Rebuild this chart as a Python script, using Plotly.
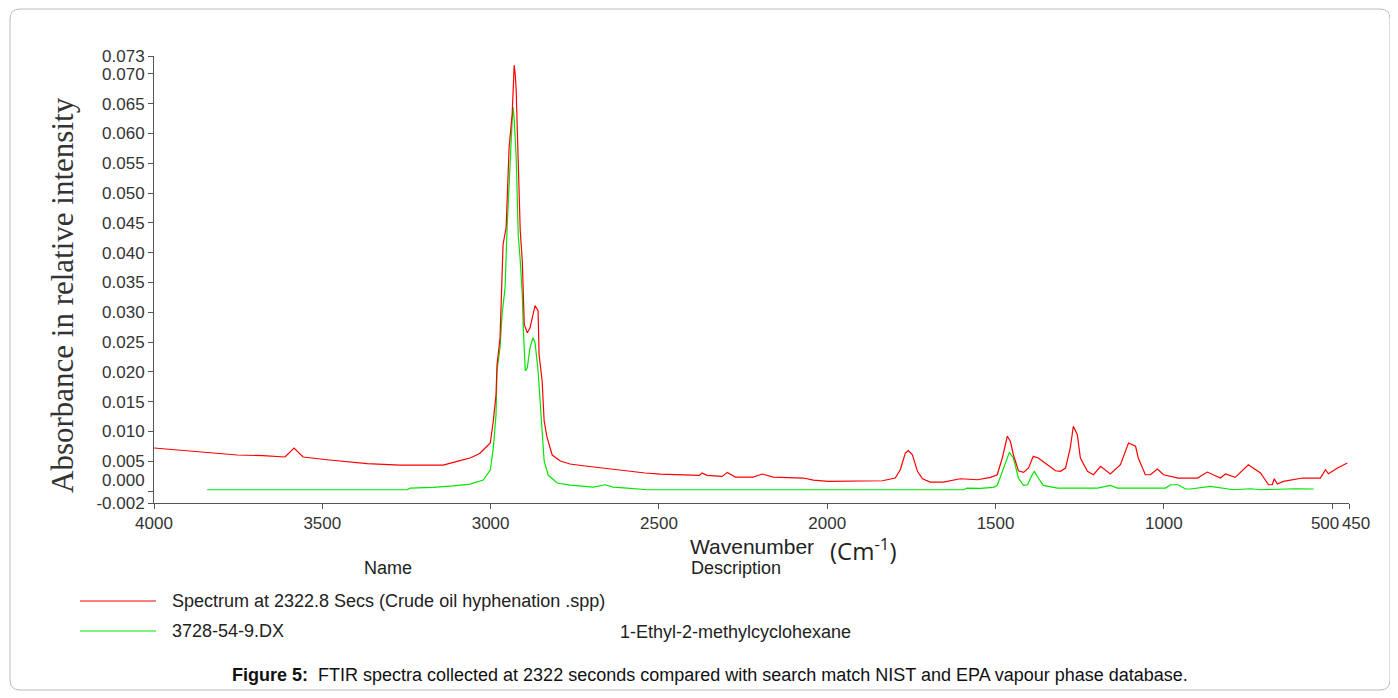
import plotly.graph_objects as go

# ---- data ----
red_wavenumber = [4000, 3944, 3854, 3753, 3676, 3611, 3584, 3557, 3486, 3367, 3269, 3141, 3091, 3061,
                  3040, 3031, 3001, 2992, 2984, 2981, 2972, 2968, 2966, 2963, 2954, 2951, 2945, 2936,
                  2933, 2930, 2927, 2924, 2921, 2918, 2915, 2912, 2906, 2903, 2900, 2891, 2883, 2874,
                  2868, 2859, 2856, 2847, 2841, 2832, 2817, 2793, 2764, 2725, 2669, 2603, 2541, 2496,
                  2422, 2380, 2372, 2357, 2312, 2297, 2273, 2220, 2193, 2160, 2071, 2041, 1997, 1836,
                  1798, 1783, 1768, 1759, 1747, 1732, 1717, 1694, 1655, 1605, 1554, 1515, 1495, 1480,
                  1465, 1456, 1447, 1432, 1417, 1402, 1388, 1373, 1346, 1322, 1307, 1292, 1278, 1269,
                  1257, 1248, 1227, 1209, 1188, 1159, 1129, 1105, 1084, 1076, 1055, 1040, 1019, 1001,
                  957, 900, 871, 832, 817, 788, 749, 713, 689, 678, 672, 663, 645, 615, 588, 535, 520,
                  511, 484, 455]
red_absorbance = [0.00723, 0.00694, 0.00656, 0.00605, 0.00594, 0.00572, 0.00723, 0.00572, 0.00526,
                  0.00459, 0.00437, 0.00437, 0.00510, 0.00555, 0.00610, 0.00639, 0.00807, 0.01177,
                  0.01614, 0.02119, 0.02573, 0.03414, 0.03800, 0.04137, 0.04422, 0.04977, 0.05768,
                  0.06323, 0.06894, 0.07146, 0.06995, 0.06726, 0.06104, 0.05599, 0.04876, 0.04372,
                  0.03867, 0.03296, 0.02791, 0.02657, 0.02741, 0.02960, 0.03111, 0.03027, 0.02287,
                  0.01850, 0.01177, 0.00891, 0.00605, 0.00505, 0.00454, 0.00425, 0.00387, 0.00341,
                  0.00303, 0.00286, 0.00264, 0.00264, 0.00303, 0.00264, 0.00247, 0.00314, 0.00235,
                  0.00235, 0.00286, 0.00235, 0.00219, 0.00185, 0.00163, 0.00173, 0.00219, 0.00358,
                  0.00639, 0.00678, 0.00610, 0.00331, 0.00207, 0.00151, 0.00151, 0.00207, 0.00190,
                  0.00230, 0.00274, 0.00555, 0.00920, 0.00836, 0.00610, 0.00341, 0.00314, 0.00387,
                  0.00583, 0.00555, 0.00442, 0.00341, 0.00331, 0.00387, 0.00723, 0.01088, 0.00947,
                  0.00555, 0.00331, 0.00274, 0.00415, 0.00286, 0.00442, 0.00807, 0.00752, 0.00555,
                  0.00274, 0.00274, 0.00370, 0.00274, 0.00219, 0.00219, 0.00319, 0.00219, 0.00286,
                  0.00230, 0.00442, 0.00303, 0.00106, 0.00106, 0.00207, 0.00118, 0.00163, 0.00190,
                  0.00219, 0.00219, 0.00358, 0.00291, 0.00387, 0.00471]

green_wavenumber = [3842, 3248, 3239, 3171, 3111, 3061, 3022, 3001, 2992, 2984, 2981, 2972, 2966,
                    2957, 2951, 2942, 2936, 2933, 2930, 2924, 2921, 2918, 2912, 2906, 2903, 2897,
                    2891, 2883, 2874, 2868, 2859, 2853, 2847, 2841, 2829, 2802, 2764, 2713, 2695,
                    2660, 2636, 2594, 2535, 1596, 1584, 1545, 1506, 1495, 1480, 1465, 1459, 1447,
                    1432, 1417, 1405, 1391, 1385, 1373, 1358, 1328, 1316, 1197, 1159, 1138, 995,
                    980, 957, 936, 921, 862, 832, 793, 743, 713, 609, 555]
green_absorbance = [0.00022, 0.00022, 0.00050, 0.00062, 0.00089, 0.00118, 0.00185, 0.00353, 0.00723,
                    0.01278, 0.02018, 0.02405, 0.02960, 0.03414, 0.04422, 0.05600, 0.06220, 0.06440,
                    0.06240, 0.05600, 0.05045, 0.04305, 0.03867, 0.03296, 0.02741, 0.02018, 0.02068,
                    0.02405, 0.02573, 0.02489, 0.02018, 0.01446, 0.01009, 0.00505, 0.00269, 0.00135,
                    0.00101, 0.00079, 0.00067, 0.00106, 0.00067, 0.00050, 0.00022, 0.00022, 0.00050,
                    0.00045, 0.00062, 0.00096, 0.00331, 0.00555, 0.00650, 0.00555, 0.00220, 0.00096,
                    0.00106, 0.00274, 0.00331, 0.00220, 0.00096, 0.00062, 0.00050, 0.00050, 0.00096,
                    0.00050, 0.00050, 0.00106, 0.00106, 0.00035, 0.00035, 0.00079, 0.00050, 0.00022,
                    0.00039, 0.00022, 0.00039, 0.00035]

x_tick_values = [4000, 3500, 3000, 2500, 2000, 1500, 1000, 500, 450]
x_tick_labels = ["4000", "3500", "3000", "2500", "2000", "1500", "1000", "500", "450"]
y_tick_values = [-0.002, 0.000, 0.005, 0.010, 0.015, 0.020, 0.025, 0.030, 0.035, 0.040, 0.045,
                 0.050, 0.055, 0.060, 0.065, 0.070, 0.073]
y_tick_labels = ["-0.002", "0.000", "0.005", "0.010", "0.015", "0.020", "0.025", "0.030", "0.035",
                 "0.040", "0.045", "0.050", "0.055", "0.060", "0.065", "0.070", "0.073"]

red_name = "Spectrum at 2322.8 Secs (Crude oil hyphenation .spp)"
green_name = "3728-54-9.DX"
green_description = "1-Ethyl-2-methylcyclohexane"

RED = "#ff0000"
GREEN = "#00e600"
OFF = 8  # page body margin
W, H = 1390, 690
L, R, T, B = 154 - OFF, 49, 56 - OFF, 195
pw, ph = W - L - R, H - T - B
NB = "\u00a0"


def px(xp):
    return (xp - OFF - L) / pw


def py(yp):
    return (H - B - (yp - OFF)) / ph


# keep the crowded end labels apart, as in the reference
x_text = list(x_tick_labels)
x_text[x_tick_values.index(500)] = x_tick_labels[x_tick_values.index(500)] + NB * 3
x_text[x_tick_values.index(450)] = NB * 3 + x_tick_labels[x_tick_values.index(450)]
y_text = list(y_tick_labels)
y_text[y_tick_values.index(0.000)] = y_tick_labels[y_tick_values.index(0.000)] + "<br>" + NB

fig = go.Figure()
fig.add_trace(go.Scatter(x=green_wavenumber, y=green_absorbance, mode="lines",
                         line=dict(color=GREEN, width=1.2), name=green_name, showlegend=False))
fig.add_trace(go.Scatter(x=red_wavenumber, y=red_absorbance, mode="lines",
                         line=dict(color=RED, width=1.2), name=red_name, showlegend=False))

tick_font = dict(family="Liberation Sans, Arial, sans-serif", size=17, color="#333333")
fig.update_xaxes(range=[4000, 450], tickvals=x_tick_values, ticktext=x_text, tickangle=0,
                 showgrid=False, zeroline=False, showline=True, linecolor="#555555", linewidth=1,
                 ticks="outside", ticklen=5, tickcolor="#555555", tickfont=tick_font)
fig.update_yaxes(range=[-0.002, 0.073], tickvals=y_tick_values, ticktext=y_text,
                 showgrid=False, zeroline=False, showline=True, linecolor="#555555", linewidth=1,
                 ticks="outside", ticklen=5, tickcolor="#555555", tickfont=tick_font)

ann = []
ann.append(dict(text="Absorbance in relative intensity", x=px(62), y=py(295), xref="paper", yref="paper",
                textangle=-90, showarrow=False, xanchor="center", yanchor="middle",
                font=dict(family="Liberation Serif, Times New Roman, serif", size=31, color="#333333")))
ann.append(dict(text="Wavenumber", x=px(816), y=py(546), xref="paper", yref="paper", showarrow=False,
                xanchor="right", yanchor="middle",
                font=dict(family="Liberation Sans, Arial, sans-serif", size=21, color="#222222")))
ann.append(dict(text="(Cm<sup>-1</sup>)", x=px(828), y=py(549), xref="paper", yref="paper", showarrow=False,
                xanchor="left", yanchor="middle",
                font=dict(family="Open Sans, sans-serif", size=24, color="#222222")))
legend_font = dict(family="Liberation Sans, Arial, sans-serif", size=18, color="#222222")
ann.append(dict(text="Name", x=px(362), y=py(568), xref="paper", yref="paper", showarrow=False,
                xanchor="left", yanchor="middle", font=legend_font))
ann.append(dict(text="Description", x=px(689), y=py(568), xref="paper", yref="paper", showarrow=False,
                xanchor="left", yanchor="middle", font=legend_font))
ann.append(dict(text=red_name, x=px(170), y=py(601), xref="paper", yref="paper", showarrow=False,
                xanchor="left", yanchor="middle", font=legend_font))
ann.append(dict(text=green_name, x=px(170), y=py(631), xref="paper", yref="paper", showarrow=False,
                xanchor="left", yanchor="middle", font=legend_font))
ann.append(dict(text=green_description, x=px(618), y=py(632), xref="paper", yref="paper", showarrow=False,
                xanchor="left", yanchor="middle", font=legend_font))
ann.append(dict(text="<b>Figure 5:</b>  FTIR spectra collected at 2322 seconds compared with search match NIST and EPA vapour phase database.",
                x=px(710), y=py(675), xref="paper", yref="paper", showarrow=False,
                xanchor="center", yanchor="middle",
                font=dict(family="Liberation Sans, Arial, sans-serif", size=18, color="#111111")))

shapes = []
shapes.append(dict(type="line", xref="paper", yref="paper", x0=px(80), x1=px(156), y0=py(601), y1=py(601),
                   line=dict(color=RED, width=1.2)))
shapes.append(dict(type="line", xref="paper", yref="paper", x0=px(80), x1=px(156), y0=py(631), y1=py(631),
                   line=dict(color=GREEN, width=1.2)))
# rounded outer frame
x0, x1, y0, y1, r = 10, 1390, 9, 690, 10
path = (f"M {px(x0 + r)},{py(y0)} L {px(x1 - r)},{py(y0)} Q {px(x1)},{py(y0)} {px(x1)},{py(y0 + r)} "
        f"L {px(x1)},{py(y1 - r)} Q {px(x1)},{py(y1)} {px(x1 - r)},{py(y1)} "
        f"L {px(x0 + r)},{py(y1)} Q {px(x0)},{py(y1)} {px(x0)},{py(y1 - r)} "
        f"L {px(x0)},{py(y0 + r)} Q {px(x0)},{py(y0)} {px(x0 + r)},{py(y0)} Z")
shapes.append(dict(type="path", xref="paper", yref="paper", path=path, line=dict(color="#bbbbbb", width=1)))

fig.update_layout(width=W, height=H, margin=dict(l=L, r=R, t=T, b=B), autosize=False,
                  paper_bgcolor="white", plot_bgcolor="white", annotations=ann, shapes=shapes,
                  showlegend=False)

fig.write_html("out.html")
